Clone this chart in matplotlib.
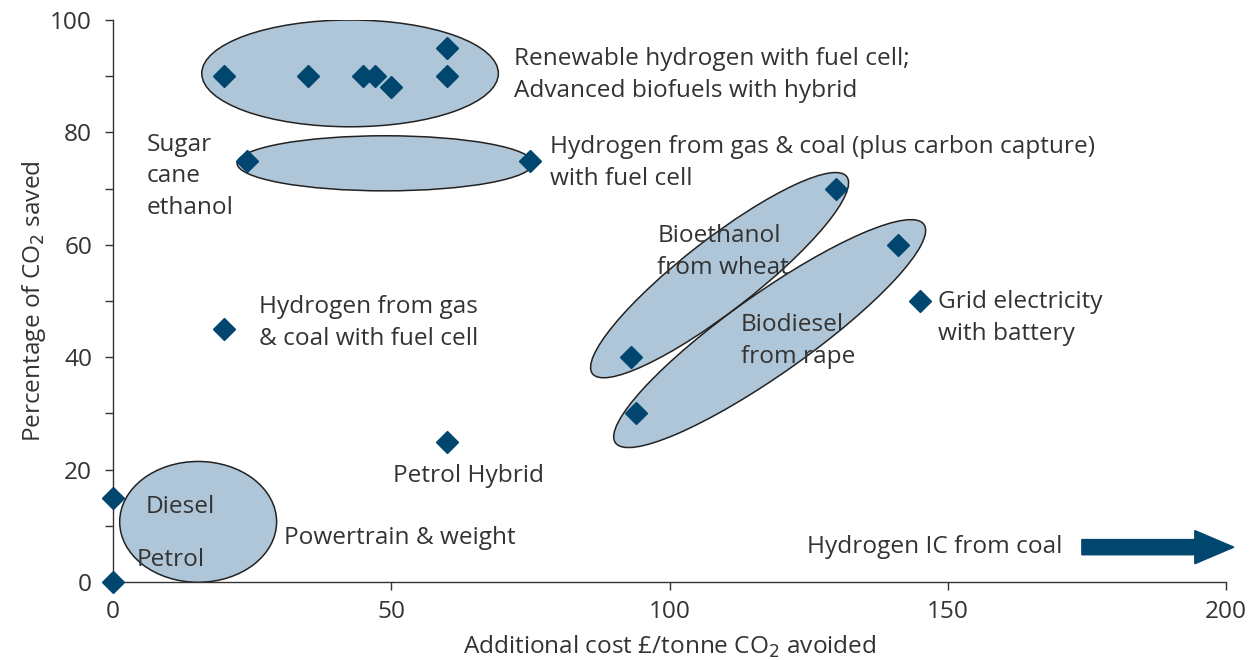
import matplotlib
matplotlib.use("Agg")
import matplotlib.pyplot as plt
from matplotlib.patches import Ellipse, FancyArrow

# ---- data ----
cost = [0, 0, 20, 35, 45, 47, 50, 60, 60, 24, 75, 20, 60, 93, 94, 130, 141, 145]
saved = [0, 15, 90, 90, 90, 90, 88, 95, 90, 75, 75, 45, 25, 40, 30, 70, 60, 50]

# group ellipses: (center x, center y, width, height, angle)
group_cx = [42.6, 48.9, 15.3, 109.0, 118.0]
group_cy = [90.5, 74.5, 10.7, 54.6, 44.2]
group_w = [53.3, 53.2, 28.2, 57.6, 67.7]
group_h = [19.0, 9.8, 21.5, 12.9, 14.3]
group_ang = [0, 0, 0, 37.5, 35.0]

label_texts = [
    "Renewable hydrogen with fuel cell;\nAdvanced biofuels with hybrid",
    "Hydrogen from gas & coal (plus carbon capture)\nwith fuel cell",
    "Sugar\ncane\nethanol",
    "Bioethanol\nfrom wheat",
    "Biodiesel\nfrom rape",
    "Grid electricity\nwith battery",
    "Hydrogen from gas\n& coal with fuel cell",
    "Petrol Hybrid",
    "Diesel",
    "Petrol",
    "Powertrain & weight",
    "Hydrogen IC from coal",
]
label_x = [72.1, 78.5, 6.1, 97.8, 112.8, 148.2, 26.2, 50.3, 5.9, 4.3, 30.7, 124.7]
label_y = [90.2, 74.6, 72.2, 58.7, 42.9, 47.0, 46.1, 18.9, 13.3, 3.9, 7.8, 6.2]

arrow_start, arrow_end, arrow_y = 174.1, 201.4, 6.2

x_ticks = [0, 50, 100, 150, 200]
y_ticks = list(range(0, 101, 10))
y_ticklabels = [str(v) if v % 20 == 0 else "" for v in y_ticks]

# ---- style ----
plt.rcParams['font.family'] = ['Open Sans', 'DejaVu Sans']
TXT = "#333333"
MARK = "#00466e"
FILL = "#afc6d8"
FS = 17.6

fig = plt.figure(figsize=(12.51, 6.60), dpi=100)
ax = fig.add_axes([113/1251, 1 - 582/660, (1226-113)/1251, (582-20)/660])

for cx, cy, w, h, a in zip(group_cx, group_cy, group_w, group_h, group_ang):
    ax.add_patch(Ellipse((cx, cy), w, h, angle=a, facecolor=FILL,
                         edgecolor="#222222", linewidth=1.1, zorder=1))

ax.plot(cost, saved, linestyle="none", marker="D", markersize=11,
        color=MARK, zorder=3, clip_on=False)

for t, x, y in zip(label_texts, label_x, label_y):
    ax.text(x, y, t, ha="left", va="center", fontsize=FS, color=TXT,
            linespacing=1.42, zorder=4)

ax.add_patch(FancyArrow(arrow_start, arrow_y, arrow_end - arrow_start, 0,
                        width=2.7, head_width=5.9, head_length=7.0,
                        length_includes_head=True, color=MARK,
                        clip_on=False, zorder=3))

ax.set_xlim(0, 200)
ax.set_ylim(0, 100)
ax.set_xticks(x_ticks)
ax.set_yticks(y_ticks)
ax.set_yticklabels(y_ticklabels)
for s in ["top", "right"]:
    ax.spines[s].set_visible(False)
for s in ["left", "bottom"]:
    ax.spines[s].set_color("#333333")
    ax.spines[s].set_linewidth(1.0)
ax.tick_params(axis="both", direction="out", length=6, width=1,
               colors="#333333", labelsize=FS, labelcolor=TXT)
ax.tick_params(axis="y", pad=9)
ax.tick_params(axis="x", pad=7)

ax.set_xlabel("Additional cost £/tonne CO$_2$ avoided", fontsize=FS,
              color=TXT, labelpad=7)
ax.set_ylabel("Percentage of CO$_2$ saved", fontsize=FS, color=TXT,
              labelpad=2)

fig.savefig("out.png", dpi=100)
